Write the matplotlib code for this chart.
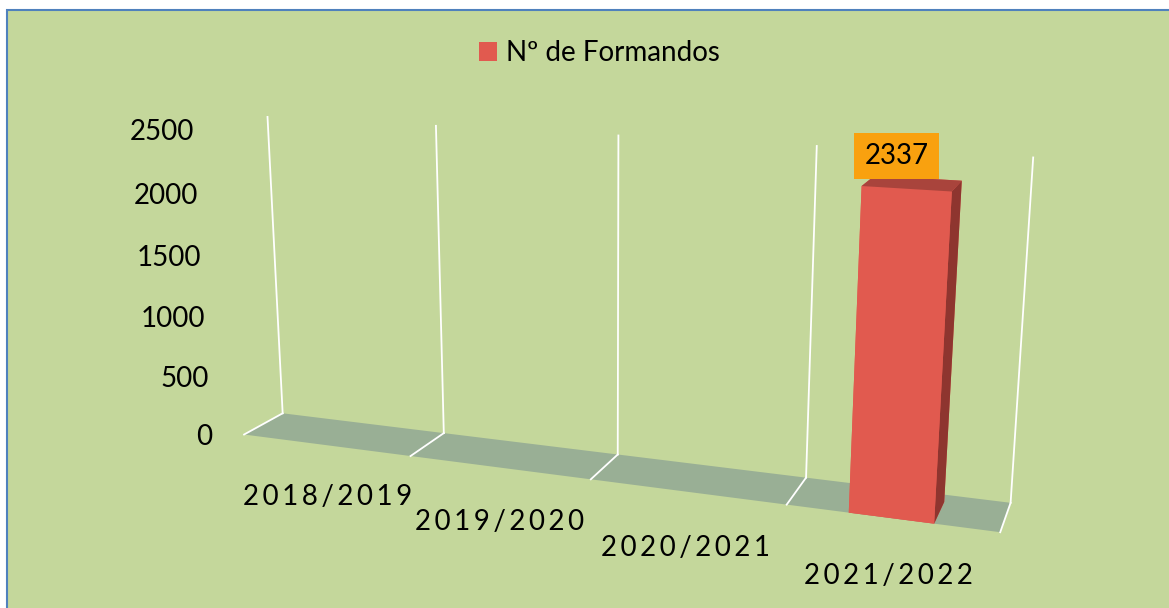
import numpy as np
import matplotlib
matplotlib.use('Agg')
import matplotlib.pyplot as plt
from matplotlib.patches import Rectangle, Patch
from mpl_toolkits.mplot3d import proj3d
from mpl_toolkits.mplot3d.art3d import Poly3DCollection

# data
categories = ['2018/2019', '2019/2020', '2020/2021', '2021/2022']
values = [0, 0, 0, 2337]
series_name = 'Nº de Formandos'
yticks = [0, 500, 1000, 1500, 2000, 2500]

plt.rcParams['font.family'] = ['Lato', 'DejaVu Sans']

W, H = 1169, 608
fig = plt.figure(figsize=(W / 100, H / 100), dpi=100)
fig.patch.set_facecolor('white')

# chart area (Excel style green box with blue border)
fig.add_artist(Rectangle((7 / W, -0.05), 1.1, 1 - 10 / H + 0.05, transform=fig.transFigure,
                         facecolor='#C4D79B', edgecolor='#4F81BD', lw=1.5, zorder=0))

# camera fitted to the reference perspective
S = 600
cx, cy = 584 + 12.46, 304 - 12.06
ax = fig.add_axes([(cx - S / 2) / W, (cy - S / 2) / H, S / W, S / H], projection='3d')
ax.patch.set_alpha(0)
ax.set_axis_off()
ax.computed_zorder = False

n = len(categories)
top = yticks[-1]

# floor
floor = Poly3DCollection([[(0, 0, 0), (n, 0, 0), (n, 1, 0), (0, 1, 0)]],
                         facecolor='#99AF95', edgecolor='none', zorder=1, clip_on=False)
ax.add_collection3d(floor)

# white gridlines on back wall and floor
for i in range(n + 1):
    ax.plot([i, i], [1, 1], [0, top], color='white', lw=1.3, zorder=2, clip_on=False)
    ax.plot([i, i], [0, 1], [0, 0], color='white', lw=1.3, zorder=2, clip_on=False)

# bars: faces -z, +z, -y, +y, -x, +x
bw, bd = 0.4, 0.75
face_cols = ['#E15A4F', '#A9443C', '#E15A4F', '#E15A4F', '#E15A4F', '#8E352F']
for i, v in enumerate(values):
    if v > 0:
        ax.bar3d(i + 0.5 - bw / 2, 0, 0, bw, bd, v, color=face_cols, shade=False,
                 zorder=3, clip_on=False)

ax.set_xlim(0, n)
ax.set_ylim(0, 1)
ax.set_zlim(0, top)
ax.view_init(elev=14.26, azim=-69.71)
ax.set_proj_type('persp', focal_length=0.502)
ax.set_box_aspect((1, 0.0988, 0.4168), zoom=1.418)

M = ax.get_proj()


def label(x, y, z, s, **kw):
    # put a flat 2D text at the projected spot of a 3D point
    px, py, _ = proj3d.proj_transform(x, y, z, M)
    ax.text2D(float(px), float(py), s, transform=ax.transData, fontsize=20, zorder=5, **kw)


for i, v in enumerate(values):
    if v > 0:
        label(i + 0.45, 0, v + 215, str(v), ha='center', va='center',
              bbox=dict(boxstyle='square,pad=0.36', facecolor='#F9A10F', edgecolor='none'))

# category labels (letter spaced)
for i, c in enumerate(categories):
    label(i + 0.5, 0, -440, '\u2009'.join(c), ha='center', va='center')

# value axis labels
for t in yticks:
    label(-0.2, 0, t - 60, str(t), ha='right', va='center')

fig.legend(handles=[Patch(facecolor='#E15A4F')], labels=[series_name], loc='center',
           bbox_to_anchor=(599 / W, 1 - 53 / H), frameon=False, fontsize=20,
           handlelength=0.65, handleheight=0.65, handletextpad=0.32)

fig.savefig('out.png', dpi=100, facecolor=fig.get_facecolor())
